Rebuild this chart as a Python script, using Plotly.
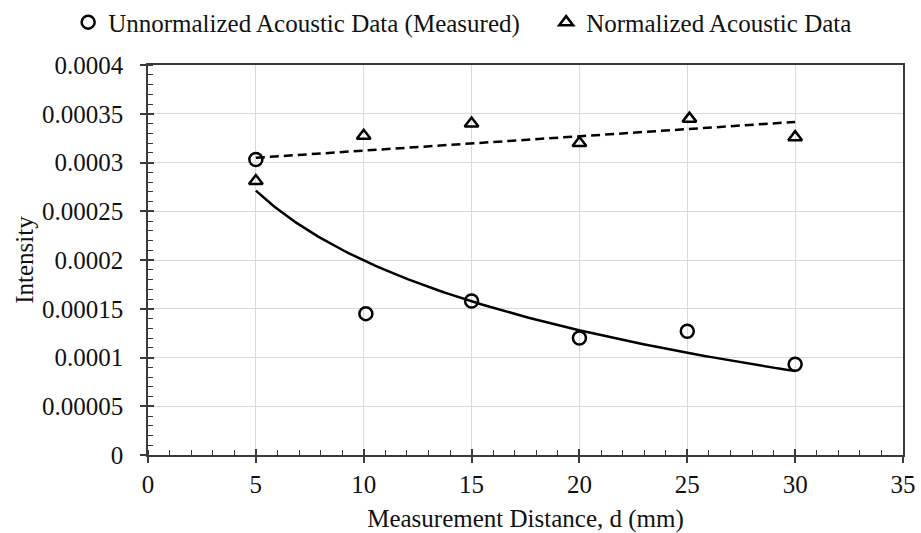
import numpy as np
import plotly.graph_objects as go

# Measured (unnormalized) intensity
unnorm_d = [5, 10.1, 15, 20, 25, 30]
unnorm_i = [0.000303, 0.000145, 0.000158, 0.000120, 0.000127, 0.000093]

# Normalized intensity
norm_d = [5, 10, 15, 20, 25.1, 30]
norm_i = [0.000281, 0.0003275, 0.000340, 0.000320, 0.000345, 0.000326]

FONT = "Liberation Serif, Times New Roman, serif"
TEXT_COLOR = "#111111"
AXIS_COLOR = "#3a3a3a"
GRID_COLOR = "#d9d9d9"

# Trend lines: logarithmic fit for the measured data, linear for the normalized data
ud = np.array(unnorm_d)
b, a = np.polyfit(np.log(ud), np.array(unnorm_i), 1)
log_x = np.linspace(ud.min(), ud.max(), 200)
log_y = a + b * np.log(log_x)

nd = np.array(norm_d)
m, c = np.polyfit(nd, np.array(norm_i), 1)
lin_x = np.array([nd.min(), nd.max()])
lin_y = m * lin_x + c

fig = go.Figure()

fig.add_trace(go.Scatter(
    x=log_x, y=log_y, mode="lines",
    line=dict(color="black", width=2.5),
    showlegend=False, hoverinfo="skip",
))
fig.add_trace(go.Scatter(
    x=lin_x, y=lin_y, mode="lines",
    line=dict(color="black", width=2.5, dash="9px,5px"),
    showlegend=False, hoverinfo="skip",
))
fig.add_trace(go.Scatter(
    x=unnorm_d, y=unnorm_i, mode="markers",
    name="Unnormalized Acoustic Data (Measured)",
    legend="legend",
    marker=dict(symbol="circle-open", size=13, color="black",
                line=dict(color="black", width=2.5)),
))
fig.add_trace(go.Scatter(
    x=norm_d, y=norm_i, mode="markers",
    name="Normalized Acoustic Data",
    legend="legend2",
    marker=dict(symbol="triangle-up-open", size=12, color="black",
                line=dict(color="black", width=2.5)),
))

# Overlay axes carry the inner half of the major ticks so they cross the axis lines
fig.add_trace(go.Scatter(x=[], y=[], xaxis="x2", yaxis="y2",
                         showlegend=False, hoverinfo="skip"))

XR = [0, 35]
YR = [0, 0.0004]

legend_style = dict(
    orientation="h", xref="container", yref="container",
    xanchor="left", y=0.958, yanchor="middle",
    font=dict(family=FONT, size=25, color=TEXT_COLOR),
    itemwidth=30, bgcolor="rgba(0,0,0,0)",
)

fig.update_layout(
    width=921, height=533,
    margin=dict(l=148, r=18, t=65, b=78, autoexpand=False),
    paper_bgcolor="white", plot_bgcolor="white",
    font=dict(family=FONT, size=25, color=TEXT_COLOR),
    legend=dict(legend_style, x=0.074),
    legend2=dict(legend_style, x=0.593),
    xaxis=dict(
        range=XR, dtick=5, tick0=0,
        showgrid=True, gridcolor=GRID_COLOR, gridwidth=1.2,
        showline=True, linecolor=AXIS_COLOR, linewidth=1.5, mirror=True,
        ticks="outside", ticklen=6, tickwidth=1.5, tickcolor=AXIS_COLOR,
        minor=dict(dtick=1, ticks="inside", ticklen=5, tickwidth=1.2,
                   tickcolor=AXIS_COLOR, showgrid=False),
        zeroline=False, ticklabelstandoff=0,
        tickfont=dict(size=25),
        title=dict(text="Measurement Distance, d (mm)", font=dict(size=25), standoff=18),
    ),
    yaxis=dict(
        range=YR, dtick=0.00005, tick0=0,
        showgrid=True, gridcolor=GRID_COLOR, gridwidth=1.2,
        showline=True, linecolor=AXIS_COLOR, linewidth=1.5, mirror=True,
        ticks="outside", ticklen=6, tickwidth=1.5, tickcolor=AXIS_COLOR,
        minor=dict(dtick=0.00001, ticks="inside", ticklen=5, tickwidth=1.2,
                   tickcolor=AXIS_COLOR, showgrid=False),
        zeroline=False, tickformat="~r", exponentformat="none",
        ticklabelstandoff=12,
        tickfont=dict(size=25),
        title=dict(text="Intensity", font=dict(size=25), standoff=1),
    ),
    xaxis2=dict(
        range=XR, dtick=5, tick0=0, overlaying="x", anchor="y2",
        ticks="inside", ticklen=6, tickwidth=1.5, tickcolor=AXIS_COLOR,
        showticklabels=False, showgrid=False, showline=False, zeroline=False,
    ),
    yaxis2=dict(
        range=YR, dtick=0.00005, tick0=0, overlaying="y", anchor="x2",
        ticks="inside", ticklen=6, tickwidth=1.5, tickcolor=AXIS_COLOR,
        showticklabels=False, showgrid=False, showline=False, zeroline=False,
    ),
)

fig.write_html("out.html")
